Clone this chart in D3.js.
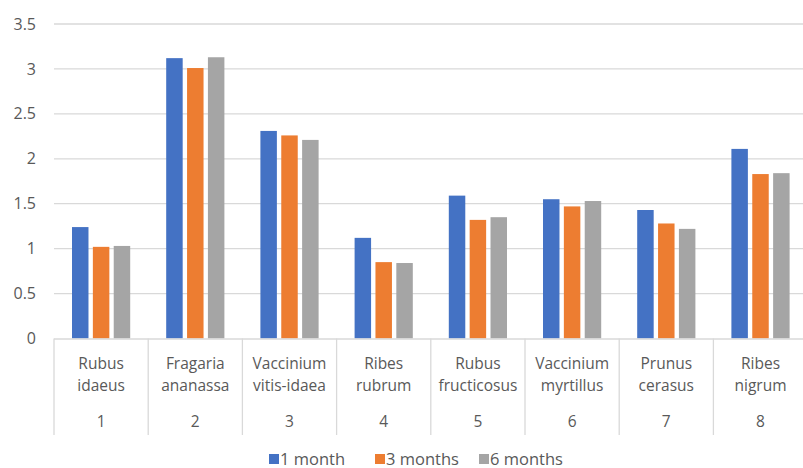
<!DOCTYPE html>
<html>
<head>
<meta charset="utf-8">
<script src="https://cdn.jsdelivr.net/npm/d3@7"></script>
<style>
  html, body { margin: 0; padding: 0; background: #fff; }
  svg { display: block; font-family: "Open Sans", "Liberation Sans", Arial, sans-serif; }
</style>
</head>
<body>
<svg id="chart" width="803" height="468"></svg>
<script>
// Species names (two lines each) and their index numbers
const speciesLine1 = ["Rubus", "Fragaria", "Vaccinium", "Ribes", "Rubus", "Vaccinium", "Prunus", "Ribes"];
const speciesLine2 = ["idaeus", "ananassa", "vitis-idaea", "rubrum", "fructicosus", "myrtillus", "cerasus", "nigrum"];
const categoryIds = ["1", "2", "3", "4", "5", "6", "7", "8"];

// Storage periods
const seriesNames = ["1 month", "3 months", "6 months"];
const seriesColors = ["#4472c4", "#ed7d31", "#a5a5a5"];

// Values per storage period
const month1 = [1.24, 3.12, 2.31, 1.12, 1.59, 1.55, 1.43, 2.11];
const month3 = [1.02, 3.01, 2.26, 0.85, 1.32, 1.47, 1.28, 1.83];
const month6 = [1.03, 3.13, 2.21, 0.84, 1.35, 1.53, 1.22, 1.84];

const yTicks = [0, 0.5, 1, 1.5, 2, 2.5, 3, 3.5];

const seriesValues = [month1, month3, month6];

const svg = d3.select("#chart");
const textColor = "#595959";
const gridColor = "#d9d9d9";
const fontSize = 15.5;

const plotLeft = 54, plotRight = 807.6, plotTop = 24, plotBottom = 338.5;

const x = d3.scaleBand().domain(categoryIds).range([plotLeft, plotRight]).padding(0);
const xInner = d3.scaleBand().domain(seriesNames)
  .range([18, x.bandwidth() - 18]).paddingInner(0.21).paddingOuter(0);
const y = d3.scaleLinear().domain([0, 3.5]).range([plotBottom, plotTop]);

// Horizontal gridlines
svg.append("g").selectAll("line").data(yTicks.filter(d => d > 0)).join("line")
  .attr("x1", plotLeft).attr("x2", plotRight)
  .attr("y1", d => y(d)).attr("y2", d => y(d))
  .attr("stroke", gridColor).attr("stroke-width", 1.3);

// Y axis labels
const yAxis = d3.axisLeft(y).tickValues(yTicks).tickSize(0).tickPadding(0)
  .tickFormat(d => String(d));
svg.append("g").attr("transform", `translate(36,0)`).call(yAxis)
  .call(g => g.select(".domain").remove())
  .call(g => g.selectAll("text")
    .attr("fill", textColor).attr("font-size", 16)
    .attr("font-family", "Open Sans, Liberation Sans, Arial, sans-serif"));

// Bars
const groups = svg.append("g").selectAll("g").data(categoryIds).join("g")
  .attr("transform", d => `translate(${x(d)},0)`);
groups.selectAll("rect")
  .data((d, i) => seriesNames.map((s, j) => ({ s, j, v: seriesValues[j][i] })))
  .join("rect")
  .attr("x", d => xInner(d.s))
  .attr("width", xInner.bandwidth())
  .attr("y", d => y(d.v))
  .attr("height", d => y(0) - y(d.v))
  .attr("fill", d => seriesColors[d.j]);

// Category axis: baseline and separators
const sepBottom = 435;
svg.append("line").attr("x1", plotLeft).attr("x2", plotRight)
  .attr("y1", plotBottom + 0.5).attr("y2", plotBottom + 0.5)
  .attr("stroke", gridColor).attr("stroke-width", 1.3);
svg.append("g").selectAll("line").data(d3.range(categoryIds.length + 1)).join("line")
  .attr("x1", i => plotLeft + i * x.step()).attr("x2", i => plotLeft + i * x.step())
  .attr("y1", plotBottom).attr("y2", sepBottom)
  .attr("stroke", gridColor).attr("stroke-width", 1.3);

// Category labels
const labels = svg.append("g").attr("fill", textColor).attr("font-size", fontSize)
  .attr("text-anchor", "middle");
categoryIds.forEach((id, i) => {
  const cx = x(id) + x.bandwidth() / 2;
  labels.append("text").attr("x", cx).attr("y", 369).text(speciesLine1[i]);
  labels.append("text").attr("x", cx).attr("y", 391).text(speciesLine2[i]);
  labels.append("text").attr("x", cx).attr("y", 427).text(id);
});

// Legend
const legendX = [269, 375, 479];
const legend = svg.append("g");
seriesNames.forEach((name, j) => {
  legend.append("rect").attr("x", legendX[j]).attr("y", 454)
    .attr("width", 10).attr("height", 10).attr("fill", seriesColors[j]);
  legend.append("text").attr("x", legendX[j] + 11).attr("y", 464.5)
    .attr("fill", textColor).attr("font-size", 16.5).text(name);
});
</script>
</body>
</html>
